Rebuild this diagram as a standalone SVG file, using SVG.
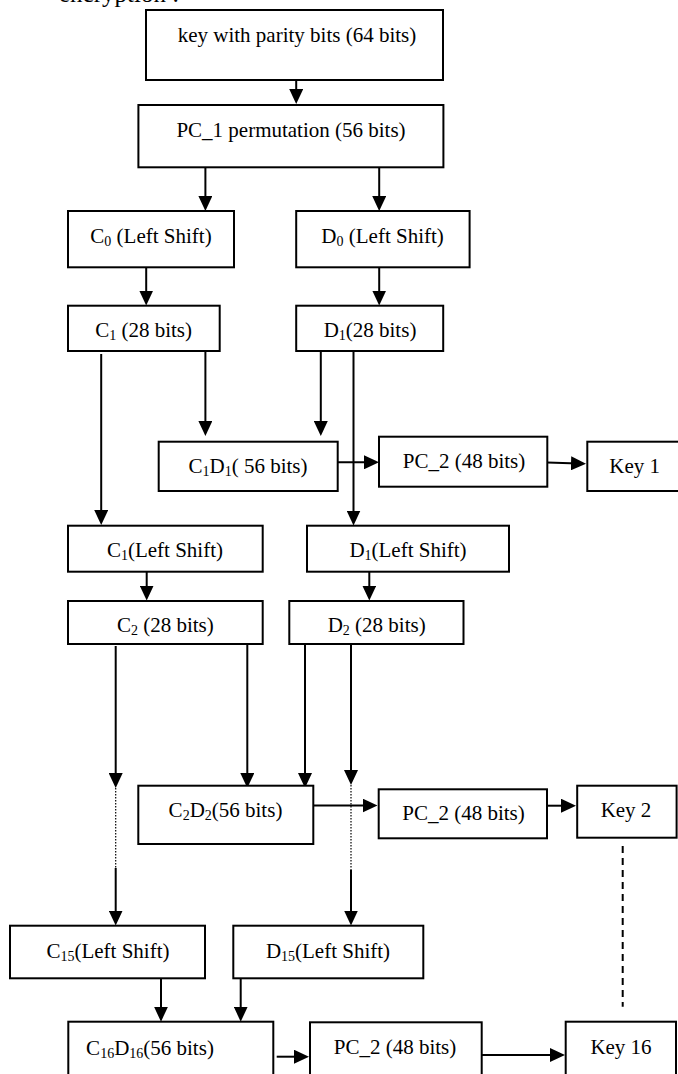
<svg xmlns="http://www.w3.org/2000/svg" width="678" height="1074" viewBox="0 0 678 1074">
<style>
.box{fill:#fff;stroke:#000;stroke-width:2}
.t{font-family:"Liberation Serif","Times New Roman",serif;font-size:21px;fill:#000;text-anchor:middle}
.s{font-size:14px}
.ln{fill:none;stroke:#000;stroke-width:2}
.dot{fill:none;stroke:#000;stroke-width:1.2;stroke-dasharray:1.5 1.5}
.dash{fill:none;stroke:#000;stroke-width:2;stroke-dasharray:7 5}
</style>
<defs>
<marker id="ah" viewBox="0 0 15 14" refX="7" refY="7" markerWidth="15" markerHeight="14" markerUnits="userSpaceOnUse" orient="auto">
<path d="M0,0 L15,7 L0,14 z" fill="#000"/>
</marker>
</defs>
<rect width="678" height="1074" fill="#fff"/>
<text x="59" y="2" class="t" style="font-size:25px;text-anchor:start">encryption :</text>

<g id="connectors">
<path class="ln" marker-end="url(#ah)" d="M296.2,80 V96"/>
<path class="ln" marker-end="url(#ah)" d="M205.4,167.3 V203"/>
<path class="ln" marker-end="url(#ah)" d="M379.2,167.3 V203"/>
<path class="ln" marker-end="url(#ah)" d="M146.2,267.3 V297.5"/>
<path class="ln" marker-end="url(#ah)" d="M379.2,267.3 V297.5"/>
<path class="ln" marker-end="url(#ah)" d="M101.2,354 V517"/>
<path class="ln" marker-end="url(#ah)" d="M205.4,351 V428"/>
<path class="ln" marker-end="url(#ah)" d="M320.8,351 V428"/>
<path class="ln" marker-end="url(#ah)" d="M353.5,351 V517.5"/>
<path class="ln" marker-end="url(#ah)" d="M337.7,462.3 H371"/>
<path class="ln" marker-end="url(#ah)" d="M547.3,462.5 L578,463.5"/>
<path class="ln" marker-end="url(#ah)" d="M146.7,571.7 V592.5"/>
<path class="ln" marker-end="url(#ah)" d="M369.3,571.7 V592.5"/>
<path class="ln" marker-end="url(#ah)" d="M115.7,646 V780"/>
<path class="dot" d="M115.7,788 V868"/>
<path class="ln" marker-end="url(#ah)" d="M115.7,868 V917.5"/>
<path class="ln" marker-end="url(#ah)" d="M247.3,644 V780"/>
<path class="ln" marker-end="url(#ah)" d="M305,644 V780"/>
<path class="ln" marker-end="url(#ah)" d="M351,644 V777"/>
<path class="dot" d="M351,785 V870"/>
<path class="ln" marker-end="url(#ah)" d="M351,870 V917.5"/>
<path class="ln" marker-end="url(#ah)" d="M309.5,805.5 H369.5"/>
<path class="ln" marker-end="url(#ah)" d="M547,805.7 H568"/>
<path class="dash" d="M622.7,846 V1006.7"/>
<path class="ln" marker-end="url(#ah)" d="M161,978.3 V1013.7"/>
<path class="ln" marker-end="url(#ah)" d="M240.7,978.3 V1013.7"/>
<path class="ln" marker-end="url(#ah)" d="M276.7,1056.7 H301"/>
<path class="ln" marker-end="url(#ah)" d="M481.7,1055 H557"/>
</g>

<g id="n_key"><rect class="box" x="146" y="10" width="297" height="70"/><text class="t" x="297" y="42">key with parity bits (64 bits)</text></g>
<g id="n_pc1"><rect class="box" x="138.4" y="105" width="305" height="62.3"/><text class="t" x="291" y="137">PC_1 permutation (56 bits)</text></g>
<g id="n_c0"><rect class="box" x="68" y="211" width="166" height="56.3"/><text class="t" x="151" y="243">C<tspan class="s" dy="3">0</tspan><tspan dy="-3"> (Left Shift)</tspan></text></g>
<g id="n_d0"><rect class="box" x="296.2" y="211" width="173.4" height="56.3"/><text class="t" x="382.6" y="243">D<tspan class="s" dy="3">0</tspan><tspan dy="-3"> (Left Shift)</tspan></text></g>
<g id="n_c1"><rect class="box" x="68" y="305.7" width="151.7" height="45.3"/><text class="t" x="143.6" y="336.7">C<tspan class="s" dy="3">1</tspan><tspan dy="-3"> (28 bits)</tspan></text></g>
<g id="n_d1"><rect class="box" x="296.2" y="305.7" width="147" height="45.3"/><text class="t" x="370" y="336.7">D<tspan class="s" dy="3">1</tspan><tspan dy="-3">(28 bits)</tspan></text></g>
<g id="n_c1d1"><rect class="box" x="158.7" y="441.7" width="179" height="49.3"/><text class="t" x="248" y="473.3">C<tspan class="s" dy="3">1</tspan><tspan dy="-3">D</tspan><tspan class="s" dy="3">1</tspan><tspan dy="-3">( 56 bits)</tspan></text></g>
<g id="n_pc2a"><rect class="box" x="379" y="436.7" width="168.3" height="50"/><text class="t" x="464" y="468">PC_2 (48 bits)</text></g>
<g id="n_key1"><rect class="box" x="587.3" y="441.7" width="95" height="49.3"/><text class="t" x="634.7" y="472.7">Key 1</text></g>
<g id="n_c1ls"><rect class="box" x="68" y="525.7" width="194.7" height="46"/><text class="t" x="165" y="556.7">C<tspan class="s" dy="3">1</tspan><tspan dy="-3">(Left Shift)</tspan></text></g>
<g id="n_d1ls"><rect class="box" x="307" y="525.7" width="202" height="46"/><text class="t" x="408" y="556.7">D<tspan class="s" dy="3">1</tspan><tspan dy="-3">(Left Shift)</tspan></text></g>
<g id="n_c2"><rect class="box" x="68" y="601" width="194.7" height="43"/><text class="t" x="165.3" y="631.7">C<tspan class="s" dy="3">2</tspan><tspan dy="-3"> (28 bits)</tspan></text></g>
<g id="n_d2"><rect class="box" x="289.3" y="601" width="174.2" height="43"/><text class="t" x="376.7" y="631.7">D<tspan class="s" dy="3">2</tspan><tspan dy="-3"> (28 bits)</tspan></text></g>
<g id="n_c2d2"><rect class="box" x="138.3" y="785.7" width="175" height="58.3"/><text class="t" x="225.5" y="816.7">C<tspan class="s" dy="3">2</tspan><tspan dy="-3">D</tspan><tspan class="s" dy="3">2</tspan><tspan dy="-3">(56 bits)</tspan></text></g>
<g id="n_pc2b"><rect class="box" x="378.7" y="789.3" width="168.3" height="49"/><text class="t" x="463.5" y="820">PC_2 (48 bits)</text></g>
<g id="n_key2"><rect class="box" x="577.2" y="785.7" width="99.4" height="52"/><text class="t" x="626" y="816.7">Key 2</text></g>
<g id="n_c15"><rect class="box" x="10" y="925.7" width="195" height="52.6"/><text class="t" x="108" y="958.3">C<tspan class="s" dy="3">15</tspan><tspan dy="-3">(Left Shift)</tspan></text></g>
<g id="n_d15"><rect class="box" x="233.3" y="925.7" width="190" height="52.6"/><text class="t" x="328" y="958.3">D<tspan class="s" dy="3">15</tspan><tspan dy="-3">(Left Shift)</tspan></text></g>
<g id="n_c16d16"><rect class="box" x="68.3" y="1021.7" width="205" height="60"/><text class="t" x="150" y="1055">C<tspan class="s" dy="3">16</tspan><tspan dy="-3">D</tspan><tspan class="s" dy="3">16</tspan><tspan dy="-3">(56 bits)</tspan></text></g>
<g id="n_pc2c"><rect class="box" x="310" y="1022.3" width="171.7" height="60"/><text class="t" x="395" y="1054">PC_2 (48 bits)</text></g>
<g id="n_key16"><rect class="box" x="565.7" y="1021.7" width="110.3" height="60"/><text class="t" x="621" y="1054">Key 16</text></g>
</svg>
